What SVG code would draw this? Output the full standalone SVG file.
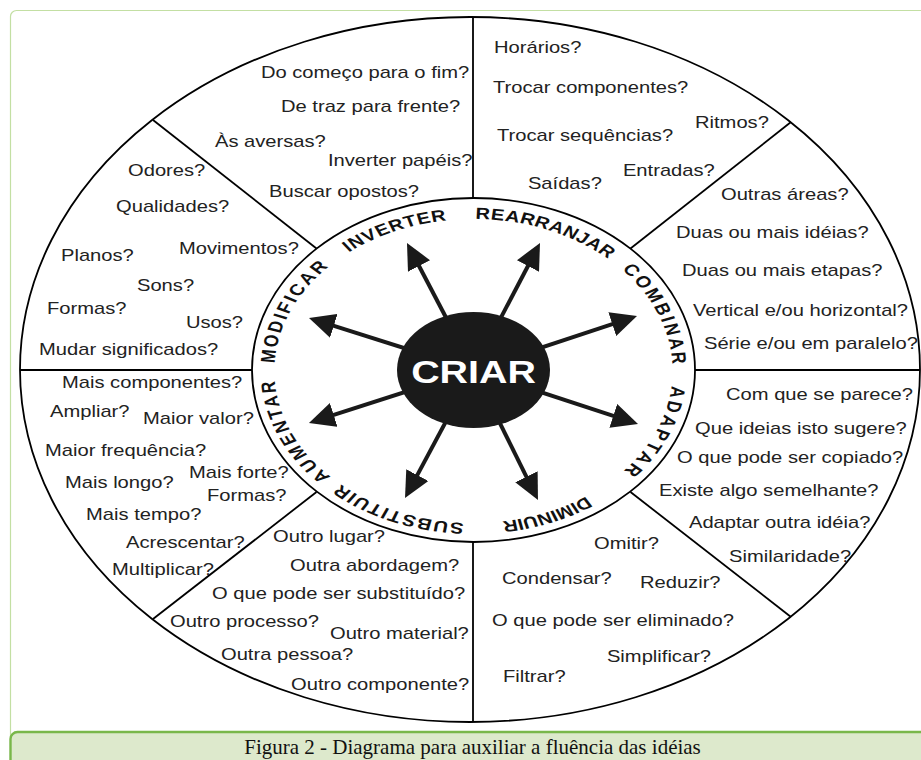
<svg xmlns="http://www.w3.org/2000/svg" xmlns:xlink="http://www.w3.org/1999/xlink" width="921" height="760" viewBox="0 0 921 760">
  <style>
    .q { font-family: "Liberation Sans", Arial, sans-serif; font-size: 16px; fill: #222; }
    .ring { font-family: "Liberation Sans", Arial, sans-serif; font-size: 16px; font-weight: bold; fill: #111; }
    .ln { stroke: #000; stroke-width: 1.8; fill: none; }
    .arrow { stroke: #1a1a1a; stroke-width: 4; fill: none; marker-end: url(#head); }
    .cap { font-family: "Liberation Serif", "Times New Roman", serif; font-size: 21px; fill: #111; }
  </style>
  <defs>
    <marker id="head" markerUnits="userSpaceOnUse" viewBox="0 0 26 25" markerWidth="26" markerHeight="25" refX="4" refY="12.5" orient="auto">
      <path d="M0,0 L26,12.5 L0,25 Z" fill="#1a1a1a"/>
    </marker>
    <!-- clockwise baseline for the ring labels, drawn in the 1.26x-wide text frame -->
    <path id="ringPath" d="M217.8,371 A158,152 0 1 1 533.8,371 A158,152 0 1 1 217.8,371 Z"/>
  </defs>

  <!-- page frame and caption bar -->
  <rect x="10.5" y="10.5" width="940" height="800" rx="6" fill="#fff" stroke="#c3dfa3" stroke-width="1.2"/>
  <rect x="10.5" y="732" width="940" height="60" rx="7" fill="#dde9cc" stroke="#79b74a" stroke-width="2.4"/>
  <text class="cap" x="472.5" y="754" text-anchor="middle">Figura 2 - Diagrama para auxiliar a fluência das idéias</text>

  <!-- wheel outline and sector dividers -->
  <g id="wheel">
    <ellipse class="ln" cx="470" cy="369.5" rx="450" ry="352.5" stroke-width="2"/>
    <ellipse class="ln" cx="473.5" cy="370" rx="221.5" ry="172" stroke-width="2"/>
    <line class="ln" x1="473" y1="17" x2="473" y2="198"/>
    <line class="ln" x1="473" y1="542" x2="473" y2="722"/>
    <line class="ln" x1="20" y1="370" x2="252" y2="370"/>
    <line class="ln" x1="695" y1="370" x2="920" y2="370"/>
    <line class="ln" x1="153" y1="120" x2="316.5" y2="248.5"/>
    <line class="ln" x1="791" y1="122" x2="630.5" y2="248.5"/>
    <line class="ln" x1="153" y1="619" x2="316.5" y2="492"/>
    <line class="ln" x1="791" y1="617" x2="630.5" y2="492"/>
  </g>

  <!-- sectors: ring label plus its prompt questions (text frame is 1.26x wide) -->
  <g id="sector-inverter">
    <g transform="scale(1.26,1)">
      <text class="ring"><textPath href="#ringPath" xlink:href="#ringPath" startOffset="18.44%" text-anchor="middle" textLength="85" lengthAdjust="spacing">INVERTER</textPath></text>
      <text class="q" x="207.1" y="78">Do começo para o fim?</text>
      <text class="q" x="223" y="112">De traz para frente?</text>
      <text class="q" x="170.6" y="147">Às aversas?</text>
      <text class="q" x="260.3" y="166">Inverter papéis?</text>
      <text class="q" x="213.5" y="197">Buscar opostos?</text>
    </g>
  </g>

  <g id="sector-rearranjar">
    <g transform="scale(1.26,1)">
      <text class="ring"><textPath href="#ringPath" xlink:href="#ringPath" startOffset="31.06%" text-anchor="middle" textLength="115" lengthAdjust="spacing">REARRANJAR</textPath></text>
      <text class="q" x="392.1" y="53">Horários?</text>
      <text class="q" x="391.3" y="93">Trocar componentes?</text>
      <text class="q" x="551.6" y="128">Ritmos?</text>
      <text class="q" x="394.4" y="141">Trocar sequências?</text>
      <text class="q" x="494.4" y="176">Entradas?</text>
      <text class="q" x="419" y="189">Saídas?</text>
    </g>
  </g>

  <g id="sector-combinar">
    <g transform="scale(1.26,1)">
      <text class="ring"><textPath href="#ringPath" xlink:href="#ringPath" startOffset="43.89%" text-anchor="middle" textLength="105" lengthAdjust="spacing">COMBINAR</textPath></text>
      <text class="q" x="572.2" y="200">Outras áreas?</text>
      <text class="q" x="536.5" y="238">Duas ou mais idéias?</text>
      <text class="q" x="541.3" y="276">Duas ou mais etapas?</text>
      <text class="q" x="550" y="316">Vertical e/ou horizontal?</text>
      <text class="q" x="558.7" y="349">Série e/ou em paralelo?</text>
    </g>
  </g>

  <g id="sector-adaptar">
    <g transform="scale(1.26,1)">
      <text class="ring"><textPath href="#ringPath" xlink:href="#ringPath" startOffset="56.39%" text-anchor="middle" textLength="95" lengthAdjust="spacing">ADAPTAR</textPath></text>
      <text class="q" x="576.2" y="400">Com que se parece?</text>
      <text class="q" x="551.6" y="434">Que ideias isto sugere?</text>
      <text class="q" x="537.3" y="463">O que pode ser copiado?</text>
      <text class="q" x="523" y="496">Existe algo semelhante?</text>
      <text class="q" x="546.8" y="528">Adaptar outra idéia?</text>
      <text class="q" x="578.6" y="562">Similaridade?</text>
    </g>
  </g>

  <g id="sector-diminuir">
    <g transform="scale(1.26,1)">
      <text class="ring"><textPath href="#ringPath" xlink:href="#ringPath" startOffset="68.97%" text-anchor="middle" textLength="72" lengthAdjust="spacing">DIMINUIR</textPath></text>
      <text class="q" x="471.4" y="549">Omitir?</text>
      <text class="q" x="398.4" y="584">Condensar?</text>
      <text class="q" x="507.9" y="588">Reduzir?</text>
      <text class="q" x="390.5" y="626">O que pode ser eliminado?</text>
      <text class="q" x="481.7" y="662">Simplificar?</text>
      <text class="q" x="399.2" y="682">Filtrar?</text>
    </g>
  </g>

  <g id="sector-substituir">
    <g transform="scale(1.26,1)">
      <text class="ring"><textPath href="#ringPath" xlink:href="#ringPath" startOffset="81.28%" text-anchor="middle" textLength="107" lengthAdjust="spacing">SUBSTITUIR</textPath></text>
      <text class="q" x="216.7" y="542">Outro lugar?</text>
      <text class="q" x="230.2" y="571">Outra abordagem?</text>
      <text class="q" x="168.3" y="599">O que pode ser substituído?</text>
      <text class="q" x="134.9" y="627">Outro processo?</text>
      <text class="q" x="261.9" y="639">Outro material?</text>
      <text class="q" x="175.4" y="660">Outra pessoa?</text>
      <text class="q" x="231" y="690">Outro componente?</text>
    </g>
  </g>

  <g id="sector-aumentar">
    <g transform="scale(1.26,1)">
      <text class="ring"><textPath href="#ringPath" xlink:href="#ringPath" startOffset="93.42%" text-anchor="middle" textLength="108" lengthAdjust="spacing">AUMENTAR</textPath></text>
      <text class="q" x="49.2" y="388">Mais componentes?</text>
      <text class="q" x="39.7" y="417">Ampliar?</text>
      <text class="q" x="113.5" y="424">Maior valor?</text>
      <text class="q" x="35.7" y="456">Maior frequência?</text>
      <text class="q" x="150" y="478">Mais forte?</text>
      <text class="q" x="51.6" y="488">Mais longo?</text>
      <text class="q" x="164.3" y="501">Formas?</text>
      <text class="q" x="68.3" y="520">Mais tempo?</text>
      <text class="q" x="100" y="548">Acrescentar?</text>
      <text class="q" x="88.9" y="575">Multiplicar?</text>
    </g>
  </g>

  <g id="sector-modificar">
    <g transform="scale(1.26,1)">
      <text class="ring"><textPath href="#ringPath" xlink:href="#ringPath" startOffset="6.33%" text-anchor="middle" textLength="108" lengthAdjust="spacing">MODIFICAR</textPath></text>
      <text class="q" x="101.6" y="176">Odores?</text>
      <text class="q" x="92.1" y="212">Qualidades?</text>
      <text class="q" x="142.1" y="254">Movimentos?</text>
      <text class="q" x="48.4" y="261">Planos?</text>
      <text class="q" x="108.7" y="291">Sons?</text>
      <text class="q" x="37.3" y="314">Formas?</text>
      <text class="q" x="147.6" y="328">Usos?</text>
      <text class="q" x="31" y="355">Mudar significados?</text>
    </g>
  </g>

  <!-- arrows from the centre out to each action -->
  <g id="connectors">
    <path class="arrow" d="M473.5,370 L417.2,262.5"/>
    <path class="arrow" d="M473.5,370 L529.8,262.5"/>
    <path class="arrow" d="M473.5,370 L616.1,322.9"/>
    <path class="arrow" d="M473.5,370 L617.1,417.1"/>
    <path class="arrow" d="M473.5,370 L528.2,480.3"/>
    <path class="arrow" d="M473.5,370 L415.4,478.6"/>
    <path class="arrow" d="M473.5,370 L329.9,416.2"/>
    <path class="arrow" d="M473.5,370 L330,324.6"/>
  </g>

  <g id="node-criar">
    <ellipse cx="473.5" cy="370" rx="76.5" ry="58" fill="#1a1a1a"/>
    <text transform="translate(473.5,383) scale(1.27,1)" text-anchor="middle" font-family="Liberation Sans, Arial, sans-serif" font-size="31" font-weight="bold" fill="#fff">CRIAR</text>
  </g>
</svg>
